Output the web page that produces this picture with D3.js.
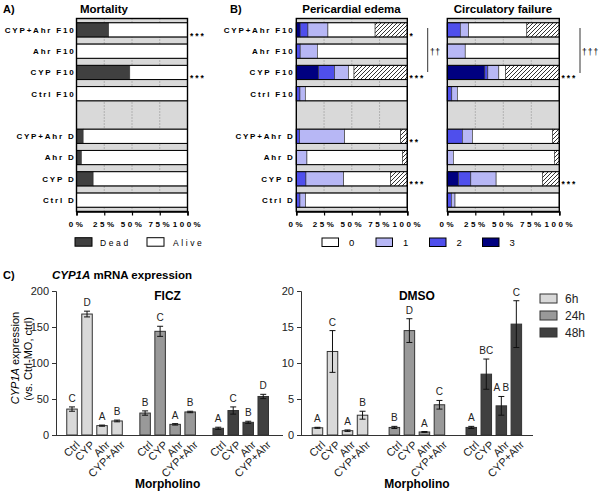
<!DOCTYPE html>
<html><head><meta charset="utf-8">
<script src="https://cdn.jsdelivr.net/npm/d3@7"></script>
<style>body{margin:0;background:#fff} svg, svg text{font-family:"Liberation Sans",Arial,sans-serif}</style>
</head><body>
<svg id="c" width="600" height="495"></svg>
<script>
// ---------- DATA ----------
const rows = ["CYP+Ahr F10","Ahr F10","CYP F10","Ctrl F10","","CYP+Ahr D","Ahr D","CYP D","Ctrl D"];
const pctTicks = [0,25,50,75,100];
// Panel A: mortality (%)
const mortDead  = [29, 0, 48, 0, null, 6, 4.4, 15, 0];
const mortAlive = [71, 100, 52, 100, null, 94, 95.6, 85, 100];
const mortStars = ["***","","***","","","","","",""];
// Panel B: pericardial edema score distribution (%); dead = hatched
const edema3 = [3.5, 0, 20, 0, null, 0, 0, 0, 0];
const edema2 = [7, 3.5, 14.5, 3.3, null, 3, 0, 8.7, 3.3];
const edema1 = [18, 15.5, 12.5, 4.8, null, 40.5, 9.6, 34, 5];
const edema0 = [42.5, 81, 5, 91.9, null, 50.5, 86, 42.3, 91.7];
const edemaStars = ["*","","***","","","**","","***",""];
// Panel B: circulatory failure score distribution (%)
const circ3 = [0, 0, 33.5, 0, null, 0, 0, 10, 0];
const circ2 = [11.6, 0, 2.7, 4, null, 13.4, 0, 11, 3.6];
const circ1 = [7.5, 16, 9.8, 5, null, 9, 5.4, 22.6, 3.3];
const circ0 = [51.9, 84, 6, 91, null, 71.6, 90.2, 41.4, 93.1];
const circStars = ["","","***","","","","","***",""];
const scoreLabels = ["0","1","2","3"];
// Panel C
const morpholinos = ["Ctrl","CYP","Ahr","CYP+Ahr"];
const times = ["6h","24h","48h"];
const ficzTicks = [0,50,100,150,200];
const dmsoTicks = [0,5,10,15,20];
const ficz6h  = [36, 168, 13, 19.5],   ficz6hErr  = [3, 4, 0.8, 1.2],   ficz6hGrp  = ["C","D","A","B"];
const ficz24h = [30.5, 144, 14.8, 32], ficz24hErr = [3, 7, 1, 1],       ficz24hGrp = ["B","C","A","B"];
const ficz48h = [9.3, 34, 17.6, 53.5], ficz48hErr = [1.5, 5, 1.5, 3],   ficz48hGrp = ["A","C","B","D"];
const dmso6h  = [1.0, 11.6, 0.6, 2.75],  dmso6hErr  = [0.07, 2.9, 0.1, 0.55],  dmso6hGrp  = ["A","C","A","B"];
const dmso24h = [1.05, 14.5, 0.42, 4.2], dmso24hErr = [0.15, 1.65, 0.06, 0.6], dmso24hGrp = ["B","D","A","C"];
const dmso48h = [1.05, 8.45, 4.05, 15.4], dmso48hErr = [0.15, 2.1, 1.3, 3.25], dmso48hGrp = ["A","BC","A B","C"];

// ---------- DRAW ----------
const FONT = "'Liberation Sans', Arial, sans-serif";
const svg = d3.select("#c");
const defs = svg.append("defs");
const pat = defs.append("pattern").attr("id","hatch").attr("patternUnits","userSpaceOnUse").attr("width",4).attr("height",4);
pat.append("rect").attr("width",4).attr("height",4).attr("fill","#fff");
pat.append("path").attr("d","M-1,1 l2,-2 M0,4 l4,-4 M3,5 l2,-2").attr("stroke","#000").attr("stroke-width",0.8);

const NAVY = "#000080", MED = "#4f4fec", LIGHT = "#b7b7f5", GRAYBG = "#d9d9d9";
const y = d3.scaleBand().domain(rows).range([18.5, 211.5]).paddingInner(0.33).paddingOuter(0.2);

function stackPanel(x0, x1, series, fills, stars, starX) {
  const x = d3.scaleLinear().domain([0,100]).range([x0,x1]);
  const g = svg.append("g");
  g.append("rect").attr("x",x0).attr("y",18.5).attr("width",x1-x0).attr("height",193).attr("fill",GRAYBG);
  g.selectAll("line.grid").data([25,50,75]).join("line").attr("class","grid")
    .attr("x1",d=>x(d)).attr("x2",d=>x(d)).attr("y1",18.5).attr("y2",211.5)
    .attr("stroke","#777").attr("stroke-width",0.8).attr("stroke-dasharray","1,2");
  rows.forEach((r,i)=>{
    if(!r) return;
    let acc = 0;
    const segs = [];
    series.forEach((s,k)=>{ const v = s[i]; if(v){ segs.push({a:acc,b:acc+v,f:fills[k]}); acc+=v; } });
    g.selectAll(null).data(segs).join("rect")
      .attr("x",d=>x(d.a)).attr("width",d=>x(d.b)-x(d.a))
      .attr("y",y(r)).attr("height",y.bandwidth())
      .attr("fill",d=>d.f).attr("stroke","#333").attr("stroke-width",0.6);
    g.append("rect").attr("x",x(0)).attr("width",x(100)-x(0)).attr("y",y(r)).attr("height",y.bandwidth())
      .attr("fill","none").attr("stroke","#000").attr("stroke-width",1);
    if(stars[i]) g.append("text").attr("x",starX).attr("y",y(r)+y.bandwidth()+1.5).attr("fill","#000")
      .attr("font-size",8.5).attr("font-weight","bold").attr("letter-spacing",2).text(stars[i]);
  });
  g.append("rect").attr("x",x0).attr("y",18.5).attr("width",x1-x0).attr("height",193)
    .attr("fill","none").attr("stroke","#000").attr("stroke-width",1.4);
  const ax = g.append("g").attr("transform","translate(0,211.5)")
    .call(d3.axisBottom(x).tickValues(pctTicks).tickSize(4).tickFormat(d=>d+"%"));
  ax.select(".domain").attr("stroke-width",1.6);
  ax.selectAll("line").attr("stroke-width",1.2);
  ax.selectAll("text").attr("font-family",FONT).attr("font-size",8).attr("fill","#000")
    .attr("font-weight","bold").attr("letter-spacing",2.5).attr("dy","1.1em");
  return x;
}
function rowLabels(xr) {
  svg.append("g").selectAll("text").data(rows.filter(r=>r)).join("text")
    .attr("x",xr).attr("y",d=>y(d)+y.bandwidth()/2).attr("dy","0.35em").attr("fill","#000")
    .attr("text-anchor","end").attr("font-size",8).attr("font-weight","bold").attr("letter-spacing",1.8)
    .text(d=>d);
}
function txt(x,yy,s,size,weight,anchor){
  return svg.append("text").attr("x",x).attr("y",yy).attr("font-size",size).attr("font-weight",weight||"normal")
    .attr("fill","#000").attr("text-anchor",anchor||"start").text(s);
}

// Panel A
txt(3,13,"A)",11,"bold");
txt(80,13,"Mortality",11.5,"bold");
stackPanel(76.5, 187.5, [mortDead, mortAlive], ["#404040","#fff"], mortStars, 190);
rowLabels(75.5);
// legend A
svg.append("rect").attr("x",75).attr("y",237.7).attr("width",17).attr("height",8.5).attr("fill","#404040").attr("stroke","#000");
txt(100,246,"Dead",8.5).attr("letter-spacing",2.6);
svg.append("rect").attr("x",147).attr("y",237.7).attr("width",17).attr("height",8.5).attr("fill","#fff").attr("stroke","#000");
txt(173,246,"Alive",8.5).attr("letter-spacing",2.6);

// Panel B
txt(230,13,"B)",11,"bold");
txt(351.5,13,"Pericardial edema",11.5,"bold","middle");
txt(503,13,"Circulatory failure",11.5,"bold","middle");
const fillsB = [NAVY, MED, LIGHT, "#fff", "url(#hatch)"];
stackPanel(296.3, 407.3, [edema3, edema2, edema1, edema0, mortDead], fillsB, edemaStars, 409.5);
stackPanel(447.3, 559.3, [circ3, circ2, circ1, circ0, mortDead], fillsB, circStars, 561.5);
rowLabels(294.5);
// brackets
svg.append("line").attr("x1",427.7).attr("x2",427.7).attr("y1",28).attr("y2",72).attr("stroke","#000").attr("stroke-width",0.8);
txt(430,55,"††",8.5).attr("letter-spacing",0.6);
svg.append("line").attr("x1",580).attr("x2",580).attr("y1",28).attr("y2",73).attr("stroke","#000").attr("stroke-width",0.8);
txt(582,55,"†††",8.5).attr("letter-spacing",1);
// legend B
const legB = d3.scaleOrdinal().domain(scoreLabels).range([322, 376, 429.5, 482.5]);
const legFill = d3.scaleOrdinal().domain(scoreLabels).range(["#fff", LIGHT, MED, NAVY]);
svg.append("g").selectAll("rect").data(scoreLabels).join("rect")
  .attr("x",d=>legB(d)).attr("y",238).attr("width",16.5).attr("height",8.5)
  .attr("fill",d=>legFill(d)).attr("stroke","#000");
svg.append("g").selectAll("text").data(scoreLabels).join("text")
  .attr("x",d=>legB(d)+27).attr("y",246.3).attr("font-size",9.5).attr("fill","#000").text(d=>d);

// Panel C
txt(3,279,"C)",11,"bold");
const t = svg.append("text").attr("x",122).attr("y",279).attr("text-anchor","middle").attr("font-size",11.5).attr("font-weight","bold");
t.append("tspan").attr("font-style","italic").text("CYP1A");
t.append("tspan").text(" mRNA expression");
const yt = svg.append("text").attr("transform","translate(18.5,358) rotate(-90)").attr("text-anchor","middle").attr("font-size",11);
yt.append("tspan").attr("font-style","italic").text("CYP1A");
yt.append("tspan").text(" expression");
svg.append("text").attr("transform","translate(32,359) rotate(-90)").attr("text-anchor","middle").attr("font-size",11).text("(vs. Ctrl-MO, ctrl)");

const timeFill = d3.scaleOrdinal().domain(times).range(["#d9d9d9","#999999","#404040"]);

function barPanel(axisX, axisEnd, groupRange, padG, yMax, ticks, means, errs, grps, title) {
  const yS = d3.scaleLinear().domain([0,yMax]).range([435,291]);
  const gx = d3.scaleBand().domain(times).range(groupRange).paddingInner(padG);
  const bx = d3.scaleBand().domain(morpholinos).range([0,gx.bandwidth()]).paddingInner(0.3);
  const g = svg.append("g");
  const ya = g.append("g").attr("transform",`translate(${axisX},0)`).call(d3.axisLeft(yS).tickValues(ticks).tickSize(4));
  ya.selectAll("text").attr("font-size",11).attr("fill","#222").attr("font-family",FONT);
  ya.selectAll("line,path").attr("stroke","#333");
  g.append("line").attr("x1",axisX).attr("x2",axisEnd).attr("y1",435.5).attr("y2",435.5).attr("stroke","#333").attr("stroke-width",1);
  times.forEach((tm,ti)=>{
    const data = morpholinos.map((m,j)=>({m, v:means[ti][j], e:errs[ti][j], l:grps[ti][j]}));
    const gg = g.append("g").attr("transform",`translate(${gx(tm)},0)`);
    gg.selectAll("rect").data(data).join("rect")
      .attr("x",d=>bx(d.m)).attr("width",bx.bandwidth())
      .attr("y",d=>yS(d.v)).attr("height",d=>yS(0)-yS(d.v))
      .attr("fill",timeFill(tm)).attr("stroke","#333").attr("stroke-width",1);
    const cx = d=>bx(d.m)+bx.bandwidth()/2;
    gg.selectAll("line.eb").data(data).join("line").attr("class","eb")
      .attr("x1",cx).attr("x2",cx).attr("y1",d=>yS(d.v-d.e)).attr("y2",d=>yS(d.v+d.e)).attr("stroke","#111");
    gg.selectAll("line.ct").data(data).join("line").attr("class","ct")
      .attr("x1",d=>cx(d)-3).attr("x2",d=>cx(d)+3).attr("y1",d=>yS(d.v+d.e)).attr("y2",d=>yS(d.v+d.e)).attr("stroke","#111");
    gg.selectAll("line.cb").data(data).join("line").attr("class","cb")
      .attr("x1",d=>cx(d)-3).attr("x2",d=>cx(d)+3).attr("y1",d=>yS(d.v-d.e)).attr("y2",d=>yS(d.v-d.e)).attr("stroke","#111");
    gg.selectAll("text.let").data(data).join("text").attr("class","let")
      .attr("x",cx).attr("y",d=>yS(d.v+d.e)-5).attr("text-anchor","middle").attr("font-size",10).attr("fill","#222").text(d=>d.l);
    gg.selectAll("text.cat").data(data).join("text").attr("class","cat")
      .attr("transform",d=>`translate(${cx(d)+3},440) rotate(-45)`).attr("text-anchor","end").attr("dy","0.7em")
      .attr("font-size",11).attr("fill","#222").text(d=>d.m);
  });
  const mid = (groupRange[0]+groupRange[1])/2;
  txt(mid, 300, title, 12, "bold", "middle");
  txt(mid, 488, "Morpholino", 12, "bold", "middle");
}
barPanel(56, 283, [66.75, 268.5], 0.24, 200, ficzTicks,
  [ficz6h, ficz24h, ficz48h], [ficz6hErr, ficz24hErr, ficz48hErr], [ficz6hGrp, ficz24hGrp, ficz48hGrp], "FICZ");
barPanel(301, 533, [312.2, 521.6], 0.277, 20, dmsoTicks,
  [dmso6h, dmso24h, dmso48h], [dmso6hErr, dmso24hErr, dmso48hErr], [dmso6hGrp, dmso24hGrp, dmso48hGrp], "DMSO");

// legend C
const legC = d3.scaleBand().domain(times).range([294, 345]);
svg.append("g").selectAll("rect").data(times).join("rect")
  .attr("x",540).attr("y",d=>legC(d)).attr("width",17).attr("height",9)
  .attr("fill",d=>timeFill(d)).attr("stroke","#333");
svg.append("g").selectAll("text").data(times).join("text")
  .attr("x",565).attr("y",d=>legC(d)+4.5).attr("dy","0.36em").attr("font-size",12).attr("fill","#222").text(d=>d);
</script>
</body></html>
